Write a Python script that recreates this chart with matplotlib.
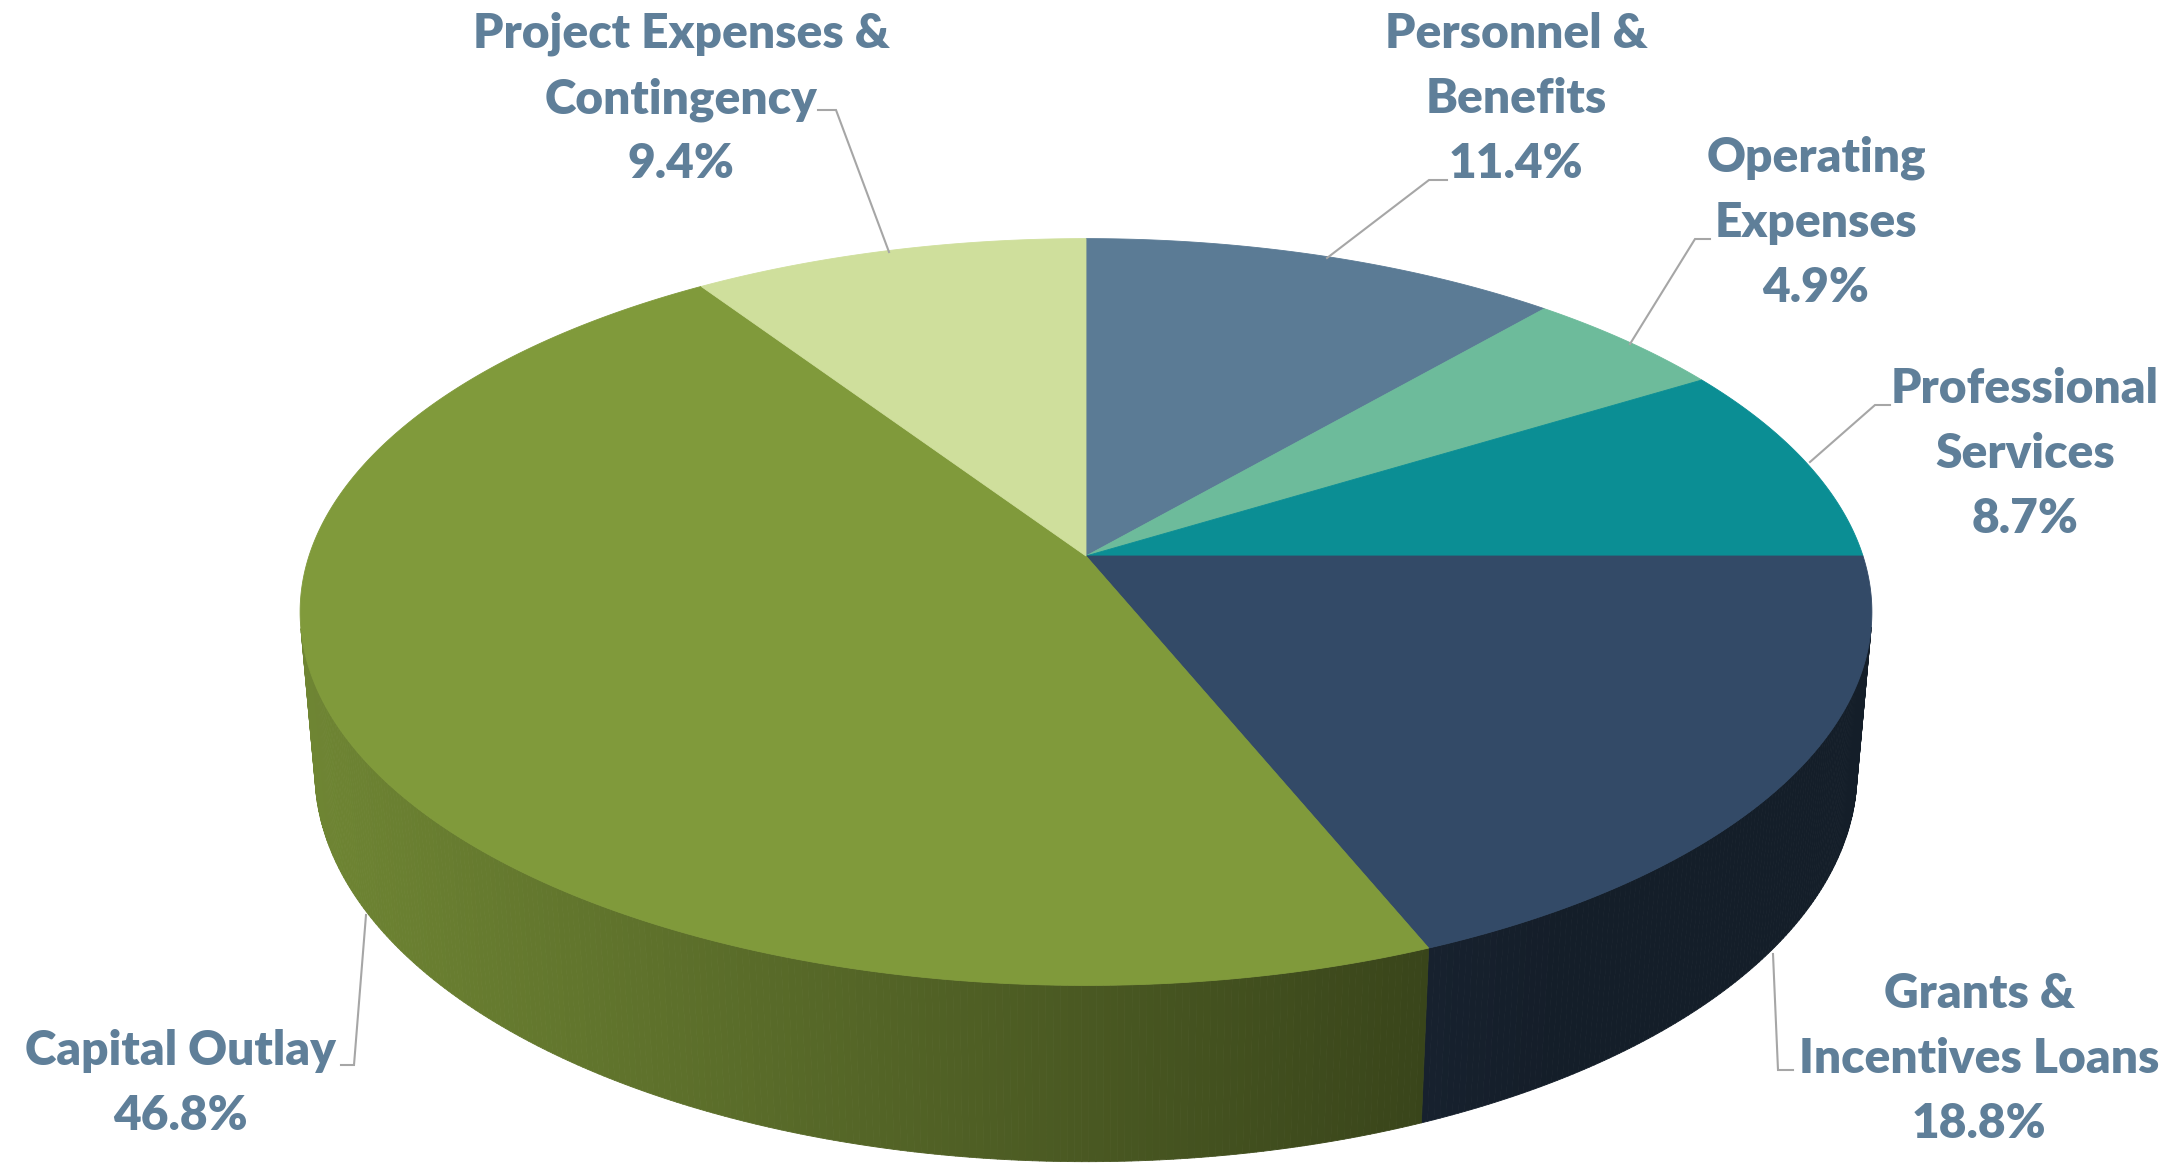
import numpy as np
import matplotlib
matplotlib.use('Agg')
import matplotlib.pyplot as plt
from matplotlib.collections import PolyCollection
from matplotlib.colors import to_rgb

# budget shares, clockwise from 12 o'clock
names = [['Personnel &', 'Benefits'],
         ['Operating', 'Expenses'],
         ['Professional', 'Services'],
         ['Grants &', 'Incentives Loans'],
         ['Capital Outlay'],
         ['Project Expenses &', 'Contingency']]
shares = [11.4, 4.9, 8.7, 18.8, 46.8, 9.4]
colors = ['#5b7b95', '#6dbb9b', '#0b8e94', '#334a67', '#809a3b', '#cfdf9c']

# label anchor (centre x, first baseline) and leader polyline, in pixels
label_xy = [(1516, 48), (1816, 172), (2025, 403), (1979, 1008), (180, 1065), (681, 48)]
leaders = [[(1447, 180), (1429, 180), (1327, 258)],
           [(1710, 239), (1695, 239), (1630, 344)],
           [(1890, 405), (1875, 405), (1810, 462)],
           [(1793, 1070), (1778, 1070), (1773, 954)],
           [(341, 1065), (354, 1065), (366, 915)],
           [(818, 110), (836, 110), (889, 252)]]

W, H = 2175, 1165
CX, CY = 1086, 556
RX, RY = 777.0, 365.0
PERSP = 0.15
SIN_E = RY / RX
COS_E = np.sqrt(1 - SIN_E ** 2)
DIST = COS_E / PERSP
FOC = RX * DIST
THICK = 0.235
TEXT_COLOR = '#5f7f99'


def project(theta, z):
    # theta clockwise from the back, z = 0 top face, z = -THICK bottom face
    x = np.sin(theta)
    y = np.cos(theta)
    depth = DIST + y * COS_E - z * SIN_E
    sx = FOC * x / depth
    sy = FOC * (y * SIN_E + z * COS_E) / depth
    return CX + sx, CY - sy


fig = plt.figure(figsize=(W / 100, H / 100), dpi=100)
ax = fig.add_axes([0, 0, 1, 1])
ax.set_xlim(0, W)
ax.set_ylim(H, 0)
ax.axis('off')

bounds = np.concatenate([[0], np.cumsum(shares)]) / sum(shares) * 2 * np.pi

# side wall: only the part facing the camera
ylim_vis = -1.0 / (DIST * COS_E)
quads, qcols = [], []
for i in range(len(shares)):
    th = np.linspace(bounds[i], bounds[i + 1], max(4, int(shares[i] * 8)))
    base = np.array(to_rgb(colors[i]))
    for a, b in zip(th[:-1], th[1:]):
        if np.cos(0.5 * (a + b)) > ylim_vis:
            continue
        xa, ya = project(a, 0)
        xb, yb = project(b, 0)
        xb2, yb2 = project(b, -THICK)
        xa2, ya2 = project(a, -THICK)
        quads.append([(xa, ya), (xb, yb), (xb2, yb2), (xa2, ya2)])
        mx = 0.25 * (xa + xb + xa2 + xb2)
        f = np.clip(0.86 - 0.000373 * (mx - 320), 0.40, 1.0)
        qcols.append(base * f)
pc = PolyCollection(quads, facecolors=qcols, edgecolors=qcols, linewidths=0.6)
ax.add_collection(pc)

# top face
for i in range(len(shares)):
    th = np.linspace(bounds[i], bounds[i + 1], max(8, int(shares[i] * 10)))
    px, py = project(th, 0)
    pts = [(CX, CY)] + list(zip(px, py))
    ax.add_patch(plt.Polygon(pts, closed=True, facecolor=colors[i],
                             edgecolor=colors[i], linewidth=0.6))

# labels and leader lines
for i in range(len(shares)):
    lines = names[i] + ['%.1f%%' % shares[i]]
    x0, y0 = label_xy[i]
    for j, s in enumerate(lines):
        ax.text(x0, y0 + j * 65, s, ha='center', va='baseline',
                fontsize=34.5, fontweight='heavy', family='Lato', color=TEXT_COLOR)
    lx, ly = zip(*leaders[i])
    ax.plot(lx, ly, color='#a6a6a6', lw=1.5, solid_joinstyle='miter')

fig.savefig('out.png', dpi=100, facecolor='white')
